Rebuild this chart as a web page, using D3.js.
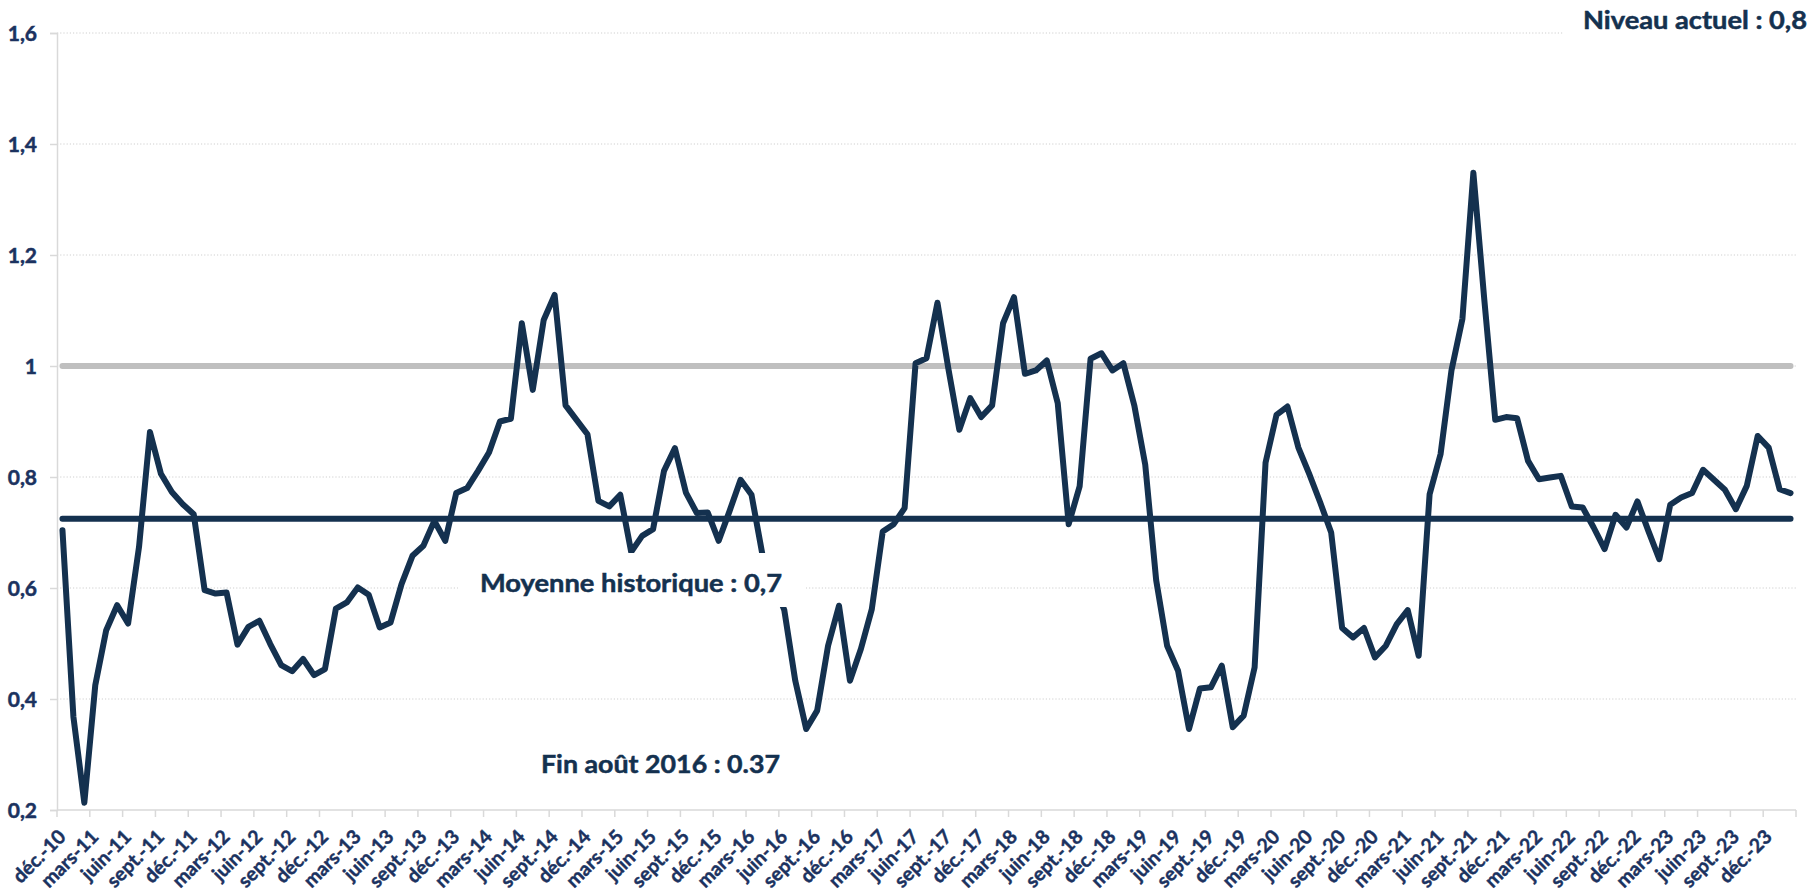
<!DOCTYPE html>
<html>
<head>
<meta charset="utf-8">
<script src="https://cdn.jsdelivr.net/npm/d3@7"></script>
<style>
  html, body { margin: 0; padding: 0; background: #ffffff; }
  svg { display: block; }
</style>
</head>
<body>
<svg id="chart" width="1812" height="891"></svg>
<script>
// ---------- DATA ----------
const monthNames = ["janv.","févr.","mars","avr.","mai","juin","juil.","août","sept.","oct.","nov.","déc."];
// Monthly categories from déc. 2010 to févr. 2024
const categories = d3.range(159).map(i => {
  const m = (11 + i) % 12, yr = 10 + Math.floor((11 + i) / 12);
  return monthNames[m] + "-" + yr;
});
const values = [
  0.704,0.368,0.213,0.425,0.524,0.569,0.536,0.674,0.881,0.806,0.773,0.751,
  0.733,0.596,0.590,0.592,0.498,0.530,0.541,0.499,0.461,0.450,0.472,0.443,
  0.454,0.563,0.574,0.601,0.588,0.529,0.538,0.607,0.658,0.676,0.721,0.685,
  0.771,0.780,0.811,0.844,0.900,0.905,1.077,0.957,1.083,1.128,0.929,0.903,
  0.877,0.757,0.747,0.768,0.665,0.694,0.706,0.811,0.852,0.772,0.735,0.736,
  0.685,0.739,0.795,0.768,0.660,0.610,0.560,0.433,0.346,0.379,0.496,0.568,
  0.433,0.490,0.562,0.702,0.715,0.744,1.005,1.014,1.114,0.995,0.885,0.942,
  0.908,0.929,1.077,1.124,0.986,0.992,1.010,0.933,0.715,0.783,1.013,1.023,
  0.992,1.005,0.929,0.822,0.614,0.496,0.451,0.346,0.419,0.421,0.460,0.349,
  0.370,0.457,0.826,0.912,0.927,0.853,0.805,0.754,0.700,0.528,0.511,0.528,
  0.475,0.496,0.535,0.560,0.478,0.769,0.841,0.992,1.085,1.348,1.120,0.903,
  0.908,0.906,0.829,0.796,0.799,0.802,0.747,0.745,0.709,0.670,0.732,0.709,
  0.756,0.703,0.652,0.750,0.763,0.771,0.813,0.795,0.777,0.742,0.784,0.874,
  0.853,0.778,0.771
];
const historicalMean = 0.725;
const thresholdLevel = 1.0;
const tickLabels = [
  "déc.-10",
  "mars-11","juin-11","sept.-11","déc.-11",
  "mars-12","juin-12","sept.-12","déc.-12",
  "mars-13","juin-13","sept.-13","déc.-13",
  "mars-14","juin-14","sept.-14","déc.-14",
  "mars-15","juin-15","sept.-15","déc.-15",
  "mars-16","juin-16","sept.-16","déc.-16",
  "mars-17","juin-17","sept.-17","déc.-17",
  "mars-18","juin-18","sept.-18","déc.-18",
  "mars-19","juin-19","sept.-19","déc.-19",
  "mars-20","juin-20","sept.-20","déc.-20",
  "mars-21","juin-21","sept.-21","déc.-21",
  "mars-22","juin-22","sept.-22","déc.-22",
  "mars-23","juin-23","sept.-23","déc.-23"
];
const yTickValues = [0.2,0.4,0.6,0.8,1.0,1.2,1.4,1.6];
const yTickLabels = ["0,2","0,4","0,6","0,8","1","1,2","1,4","1,6"];
const annotationTexts = ["Niveau actuel : 0,8", "Moyenne historique : 0,7", "Fin août 2016 : 0.37"];

// ---------- LAYOUT ----------
const plotLeft = 57, plotRight = 1796, plotTop = 33, plotBottom = 810;
const navy = "#14314f";
const labelColor = "#1b3260";
const font = "Lato, 'Open Sans', sans-serif";

const svg = d3.select("#chart");

const x = d3.scaleBand().domain(categories).range([plotLeft, plotRight]).paddingInner(0).paddingOuter(0);
const bw = x.bandwidth();
const cx = c => x(c) + bw / 2;
const y = d3.scaleLinear().domain([0.2, 1.6]).range([plotBottom, plotTop]);

// gridlines (dotted)
svg.append("g").selectAll("line")
  .data(yTickValues.filter(v => v > 0.2))
  .join("line")
  .attr("x1", plotLeft).attr("x2", plotRight)
  .attr("y1", d => y(d)).attr("y2", d => y(d))
  .attr("stroke", "#cfcfcf").attr("stroke-width", 1)
  .attr("stroke-dasharray", "1.2,2");

// y axis
const yAxis = d3.axisLeft(y).tickValues(yTickValues)
  .tickFormat((d, i) => yTickLabels[i]).tickSize(7).tickPadding(13);
const gy = svg.append("g").attr("transform", `translate(${plotLeft},0)`).call(yAxis);
gy.select(".domain").attr("stroke", "#d9d9d9").attr("stroke-width", 1.5);
gy.selectAll(".tick line").attr("stroke", "#d9d9d9").attr("stroke-width", 1.5);
gy.selectAll(".tick text")
  .attr("fill", labelColor).attr("stroke", labelColor).attr("stroke-width", 0.5)
  .attr("font-family", font).attr("font-weight", 700)
  .attr("font-size", 21).attr("dy", "0.36em");

// x axis line and ticks
const tickCats = categories.filter((c, i) => i % 3 === 0);
const gx = svg.append("g");
gx.append("line").attr("x1", plotLeft).attr("x2", plotRight).attr("y1", plotBottom).attr("y2", plotBottom)
  .attr("stroke", "#d9d9d9").attr("stroke-width", 1.5);
gx.selectAll("line.tk")
  .data(tickCats.map(c => x(c)).concat([plotRight]))
  .join("line").attr("class", "tk")
  .attr("x1", d => d).attr("x2", d => d)
  .attr("y1", plotBottom).attr("y2", plotBottom + 7)
  .attr("stroke", "#d9d9d9").attr("stroke-width", 1.5);
gx.selectAll("text")
  .data(tickCats.map((c, i) => ({c, label: tickLabels[i]})))
  .join("text")
  .attr("transform", d => `translate(${x(d.c) + 10},${plotBottom + 28}) rotate(-45)`)
  .attr("text-anchor", "end")
  .attr("fill", labelColor).attr("stroke", labelColor).attr("stroke-width", 0.45)
  .attr("font-family", font).attr("font-weight", 700)
  .attr("font-size", 19.5)
  .text(d => d.label);

// reference lines
const first = categories[0], last = categories[categories.length - 1];
svg.append("line")
  .attr("x1", cx(first)).attr("x2", cx(last))
  .attr("y1", y(thresholdLevel)).attr("y2", y(thresholdLevel))
  .attr("stroke", "#bfbfbf").attr("stroke-width", 6).attr("stroke-linecap", "round");
svg.append("line")
  .attr("x1", cx(first)).attr("x2", cx(last))
  .attr("y1", y(historicalMean)).attr("y2", y(historicalMean))
  .attr("stroke", navy).attr("stroke-width", 6).attr("stroke-linecap", "round");

// series
const line = d3.line().x((d, i) => cx(categories[i])).y(d => y(d));
svg.append("path").datum(values)
  .attr("d", line)
  .attr("fill", "none").attr("stroke", navy).attr("stroke-width", 6)
  .attr("stroke-linejoin", "round").attr("stroke-linecap", "round");

// annotations with white boxes
const ann = svg.append("g");
ann.append("rect").attr("x", 1563).attr("y", 0).attr("width", 249).attr("height", 46).attr("fill", "#fff");
ann.append("text").attr("x", 1807).attr("y", 29).attr("text-anchor", "end")
  .attr("textLength", 224).attr("lengthAdjust", "spacingAndGlyphs")
  .attr("fill", navy).attr("stroke", navy).attr("stroke-width", 0.5)
  .attr("font-family", font).attr("font-weight", 700).attr("font-size", 24)
  .text(annotationTexts[0]);
ann.append("rect").attr("x", 458).attr("y", 553).attr("width", 348).attr("height", 54).attr("fill", "#fff");
ann.append("text").attr("x", 480).attr("y", 592)
  .attr("textLength", 302).attr("lengthAdjust", "spacingAndGlyphs")
  .attr("fill", navy).attr("stroke", navy).attr("stroke-width", 0.5)
  .attr("font-family", font).attr("font-weight", 700).attr("font-size", 25)
  .text(annotationTexts[1]);
ann.append("text").attr("x", 541).attr("y", 773)
  .attr("textLength", 239).attr("lengthAdjust", "spacingAndGlyphs")
  .attr("fill", navy).attr("stroke", navy).attr("stroke-width", 0.5)
  .attr("font-family", font).attr("font-weight", 700).attr("font-size", 25)
  .text(annotationTexts[2]);
</script>
</body>
</html>
